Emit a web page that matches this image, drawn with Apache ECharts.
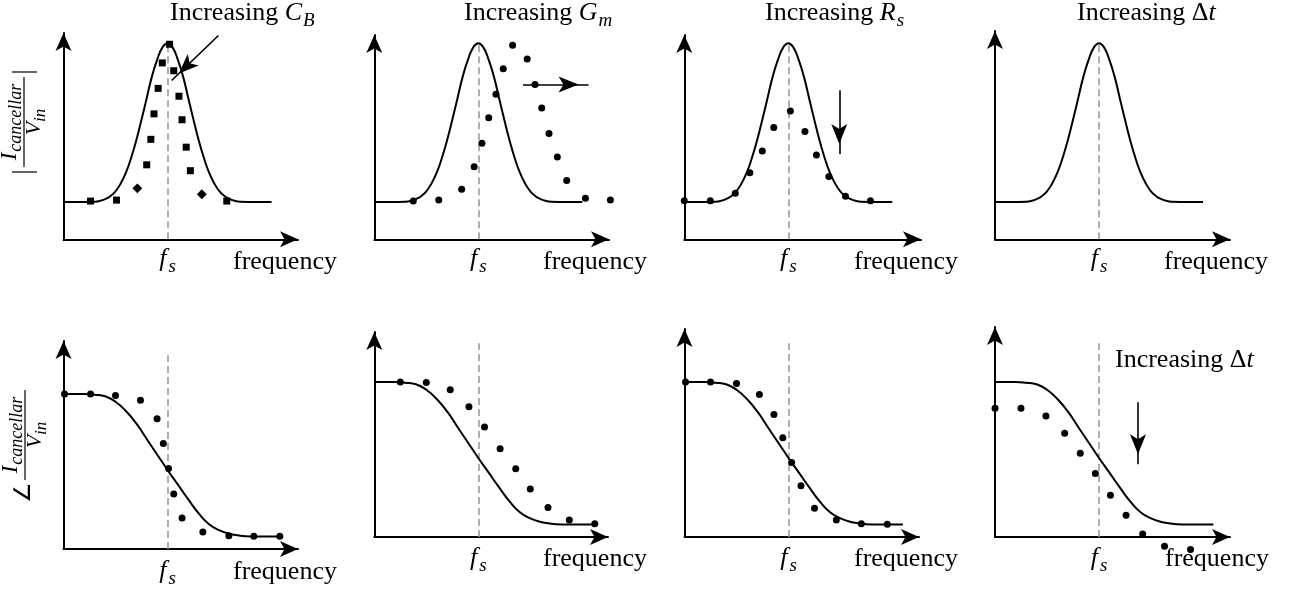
<!DOCTYPE html>
<html><head><meta charset="utf-8">
<script src="https://cdn.jsdelivr.net/npm/echarts@6/dist/echarts.min.js"></script>
<style>html,body{margin:0;padding:0;background:#fff}#c{width:1301px;height:594px}</style>
</head><body><div id="c"></div>
<script>
// ---------------- data (normalised: frequency / f_s, response / peak) ----------------
const magCurveX = [0, 0.15, 0.30, 0.35, 0.40, 0.45, 0.50, 0.55, 0.60, 0.65, 0.70, 0.75, 0.80, 0.85, 0.90, 0.95, 1.00,
                   1.05, 1.10, 1.15, 1.20, 1.25, 1.30, 1.35, 1.40, 1.45, 1.50, 1.55, 1.60, 1.65, 1.70, 1.85, 2.00];
const magCurveY = [0.19, 0.19, 0.192, 0.196, 0.205, 0.22, 0.245, 0.285, 0.34, 0.415, 0.505, 0.61, 0.72, 0.83, 0.915, 0.978, 1.00,
                   0.978, 0.915, 0.83, 0.72, 0.61, 0.505, 0.415, 0.34, 0.285, 0.245, 0.22, 0.205, 0.196, 0.192, 0.19, 0.19];
const phaseCurveX = [0, 0.1, 0.2, 0.3, 0.4, 0.5, 0.6, 0.7, 0.8, 0.9, 1.0, 1.1, 1.2, 1.3, 1.4, 1.5, 1.6, 1.7, 1.8, 1.9, 2.1];
const phaseCurveY = [1.00, 1.00, 1.00, 0.995, 0.985, 0.95, 0.89, 0.81, 0.71, 0.61, 0.51, 0.415, 0.32, 0.23, 0.16, 0.12, 0.097, 0.086, 0.081, 0.08, 0.08];

const fsValue = 1.0;
const magDashTop = 1.0;
const phaseDashTop = 1.25;

const cbMagX = [0.26, 0.51, 0.71, 0.80, 0.84, 0.87, 0.91, 0.95, 1.02, 1.06, 1.11, 1.14, 1.18, 1.22, 1.33, 1.57];
const cbMagY = [0.195, 0.20, 0.26, 0.38, 0.51, 0.64, 0.77, 0.90, 0.995, 0.86, 0.73, 0.61, 0.47, 0.35, 0.23, 0.195];
const gmMagX = [0.375, 0.62, 0.84, 0.96, 1.035, 1.10, 1.17, 1.24, 1.33, 1.47, 1.545, 1.61, 1.68, 1.76, 1.85, 2.03, 2.27];
const gmMagY = [0.196, 0.20, 0.255, 0.37, 0.49, 0.62, 0.74, 0.87, 0.99, 0.92, 0.79, 0.67, 0.54, 0.42, 0.30, 0.21, 0.20];
const rsMagX = [0, 0.25, 0.49, 0.63, 0.75, 0.86, 1.02, 1.16, 1.27, 1.39, 1.55, 1.79];
const rsMagY = [0.197, 0.197, 0.235, 0.34, 0.45, 0.57, 0.655, 0.55, 0.43, 0.32, 0.22, 0.197];

const cbPhX = [0.01, 0.26, 0.50, 0.74, 0.90, 0.96, 1.01, 1.06, 1.14, 1.34, 1.59, 1.83, 2.08];
const cbPhY = [1.00, 1.00, 0.99, 0.96, 0.84, 0.68, 0.52, 0.355, 0.20, 0.11, 0.086, 0.082, 0.082];
const gmPhX = [0.25, 0.50, 0.73, 0.91, 1.06, 1.21, 1.36, 1.50, 1.67, 1.875, 2.12];
const gmPhY = [1.00, 0.996, 0.95, 0.84, 0.71, 0.57, 0.44, 0.31, 0.19, 0.11, 0.086];
const rsPhX = [0.01, 0.25, 0.50, 0.72, 0.86, 0.945, 1.03, 1.12, 1.25, 1.46, 1.70, 1.95];
const rsPhY = [1.00, 1.00, 0.99, 0.92, 0.79, 0.64, 0.48, 0.33, 0.185, 0.11, 0.086, 0.082];
const dtPhX = [0.00, 0.25, 0.49, 0.67, 0.82, 0.965, 1.11, 1.26, 1.42, 1.63, 1.88];
const dtPhY = [0.83, 0.83, 0.78, 0.67, 0.54, 0.41, 0.27, 0.14, 0.02, -0.06, -0.08];

// annotation arrows: [from, to] in data units
const cbArrow = [[1.49, 1.04], [1.04, 0.81]];
const gmArrow = [[1.43, 0.79], [2.06, 0.79]];
const rsArrow = [[1.49, 0.76], [1.49, 0.435]];
const dtArrow = [[1.375, 0.87], [1.375, 0.47]];

const titleCB = ['Increasing ', 'C', 'B'];
const titleGM = ['Increasing ', 'G', 'm'];
const titleRS = ['Increasing ', 'R', 's'];
const titleDT = ['Increasing ', 'Δ', 't'];
const xName = 'frequency';
const fsName = ['f', 's'];
const yNum = ['I', 'cancellar'];
const yDen = ['V', 'in'];

// ---------------- layout ----------------
const PXX = 104;                 // px per unit of f/f_s
const AH = 18, AW = 12;          // axis arrow length / width
const panels = [
  {left: 63.5,  axisY: 239.3, tipX: 307,  tipY: 24,  ky: 196},
  {left: 374.3, axisY: 239.3, tipX: 618,  tipY: 26,  ky: 196},
  {left: 684.3, axisY: 239.3, tipX: 930,  tipY: 26,  ky: 196},
  {left: 995,   axisY: 239.3, tipX: 1239, tipY: 22,  ky: 196},
  {left: 63.5,  axisY: 549,   tipX: 307,  tipY: 332, ky: 155},
  {left: 374.3, axisY: 537,   tipX: 617,  tipY: 323, ky: 155},
  {left: 684.5, axisY: 537,   tipX: 928,  tipY: 320, ky: 155},
  {left: 995,   axisY: 537,   tipX: 1239, tipY: 318, ky: 155}
];
const zip = (xs, ys) => xs.map((x, i) => [x, ys[i]]);
const panelContent = [
  {curve: zip(magCurveX, magCurveY), dash: magDashTop, dots: zip(cbMagX, cbMagY), square: true, arrow: cbArrow},
  {curve: zip(magCurveX, magCurveY), dash: magDashTop, dots: zip(gmMagX, gmMagY), arrow: gmArrow},
  {curve: zip(magCurveX, magCurveY), dash: magDashTop, dots: zip(rsMagX, rsMagY), arrow: rsArrow},
  {curve: zip(magCurveX, magCurveY), dash: magDashTop, dots: null},
  {curve: zip(phaseCurveX, phaseCurveY), dash: phaseDashTop, dots: zip(cbPhX, cbPhY)},
  {curve: zip(phaseCurveX, phaseCurveY), dash: phaseDashTop, dots: zip(gmPhX, gmPhY)},
  {curve: zip(phaseCurveX, phaseCurveY), dash: phaseDashTop, dots: zip(rsPhX, rsPhY)},
  {curve: zip(phaseCurveX, phaseCurveY), dash: phaseDashTop, dots: zip(dtPhX, dtPhY), arrow: dtArrow}
];

const option = {animation: false, backgroundColor: '#fff', grid: [], xAxis: [], yAxis: [], series: [], graphic: []};

panels.forEach((p, i) => {
  const c = panelContent[i];
  const top = p.tipY + AH / 2;
  const width = p.tipX - AH / 2 - p.left;
  const height = p.axisY - top;
  option.grid.push({left: p.left, top: top, width: width, height: height, containLabel: false, outerBoundsMode: 'none'});
  const axisCommon = {
    type: 'value', gridIndex: i, min: 0,
    axisLine: {show: true, onZero: false, symbol: ['none', 'arrow'], symbolSize: [AW, AH], lineStyle: {color: '#000', width: 2}},
    axisTick: {show: false}, axisLabel: {show: false}, splitLine: {show: false}
  };
  option.xAxis.push(Object.assign({}, axisCommon, {max: width / PXX}));
  option.yAxis.push(Object.assign({}, axisCommon, {max: height / p.ky}));

  const mlData = [[
    {coord: [fsValue, 0], symbol: 'none', lineStyle: {type: [7, 4], color: '#9b9b9b', width: 1.6}},
    {coord: [fsValue, c.dash], symbol: 'none'}
  ]];
  if (c.arrow) {
    mlData.push([
      {coord: c.arrow[0], symbol: 'none', lineStyle: {type: 'solid', color: '#000', width: 1.6}},
      {coord: c.arrow[1], symbol: 'arrow', symbolSize: [12, 20], symbolOffset: [0, 10]}
    ]);
  }
  option.series.push({
    type: 'line', xAxisIndex: i, yAxisIndex: i, data: c.curve, smooth: 0.5,
    showSymbol: false, silent: true, z: 4,
    lineStyle: {color: '#000', width: 2},
    markLine: {silent: true, animation: false, symbol: ['none', 'none'], label: {show: false}, emphasis: {disabled: true}, data: mlData, z: 2}
  });
  if (c.dots) {
    let data = c.dots;
    if (c.square) {
      data = c.dots.map((d, k) => {
        const a = c.dots[Math.max(k - 1, 0)], b = c.dots[Math.min(k + 1, c.dots.length - 1)];
        const ang = Math.abs(Math.atan2((b[1] - a[1]) * p.ky, (b[0] - a[0]) * PXX) * 180 / Math.PI) % 90;
        return {value: d, symbolRotate: (ang > 35 && ang < 55) ? 45 : 0};
      });
    }
    option.series.push({
      type: 'scatter', xAxisIndex: i, yAxisIndex: i, data: data, clip: false, silent: true, z: 5,
      symbol: c.square ? 'rect' : 'circle', symbolSize: 7,
      itemStyle: {color: '#000', opacity: 1}
    });
  }
});

// ---------------- text ----------------
const FAM = '"Liberation Serif", "Times New Roman", serif';
const mctx = document.createElement('canvas').getContext('2d');
function fnt(p) { return (p.it ? 'italic ' : '') + p.size + 'px ' + FAM; }
function run(x, base, parts, center) {
  const w = parts.map(p => { mctx.font = fnt(p); return mctx.measureText(p.t).width + (p.pad || 0); });
  const tot = w.reduce((a, b) => a + b, 0);
  let cx = center ? x - tot / 2 : x;
  return parts.map((p, k) => {
    const el = {type: 'text', x: cx, y: base + (p.shift || 0) - 0.34 * p.size, silent: true,
      style: {text: p.t, font: fnt(p), fill: '#000', align: 'left', textAlign: 'left', verticalAlign: 'middle', textVerticalAlign: 'middle'}};
    cx += w[k];
    return el;
  });
}
const G = option.graphic;
const MAIN = 26, SUB = 19;
function title(x, base, t, mathUpright) {
  const parts = [{t: t[0], size: MAIN}];
  if (mathUpright) { parts.push({t: t[1], size: MAIN}); parts.push({t: t[2], size: MAIN, it: true}); }
  else { parts.push({t: t[1], size: MAIN, it: true, pad: 1}); parts.push({t: t[2], size: SUB, it: true, shift: 5}); }
  G.push(...run(x, base, parts, false));
}
title(170, 22, titleCB);
title(464, 22, titleGM);
title(765, 22, titleRS);
title(1077, 22, titleDT, true);
title(1115, 369, titleDT, true);

function fsLabel(x, base) {
  G.push(...run(x, base, [{t: fsName[0], size: MAIN, it: true, pad: 2}, {t: fsName[1], size: SUB, it: true, shift: 5}], true));
}
const fsBase = [268, 268, 268, 268, 580, 567, 567, 567];
const frBase = [271, 271, 271, 271, 581, 568.5, 568.5, 568.5];
const frLeft = [233, 543, 854, 1164, 233, 543, 854, 1165];
panels.forEach((p, i) => {
  fsLabel(p.left + fsValue * PXX, fsBase[i]);
  G.push(...run(frLeft[i], frBase[i], [{t: xName, size: MAIN}], false));
});

function yLabel(cx, cy, withAngle) {
  const ch = [];
  ch.push(...run(0, -6, [{t: yNum[0], size: 23, it: true, pad: 1}, {t: yNum[1], size: 18, it: true, shift: 4}], true));
  ch.push(...run(0, 18, [{t: yDen[0], size: 22, it: true}, {t: yDen[1], size: 17, it: true, shift: 4}], true));
  ch.push({type: 'line', silent: true, shape: {x1: -45, y1: 0, x2: 45, y2: 0}, style: {stroke: '#000', lineWidth: 1.2}});
  if (withAngle) {
    ch.push(...run(-57, 7, [{t: '∠', size: 23}], true));
  } else {
    ch.push({type: 'line', silent: true, shape: {x1: -50, y1: -12, x2: -50, y2: 13}, style: {stroke: '#000', lineWidth: 1.2}});
    ch.push({type: 'line', silent: true, shape: {x1: 50, y1: -12, x2: 50, y2: 13}, style: {stroke: '#000', lineWidth: 1.2}});
  }
  G.push({type: 'group', x: cx, y: cy, rotation: Math.PI / 2, silent: true, children: ch});
}
yLabel(24, 122, false);
yLabel(25, 435, true);

const chart = echarts.init(document.getElementById('c'), null, {renderer: 'canvas'});
chart.setOption(option);
</script>
</body></html>
